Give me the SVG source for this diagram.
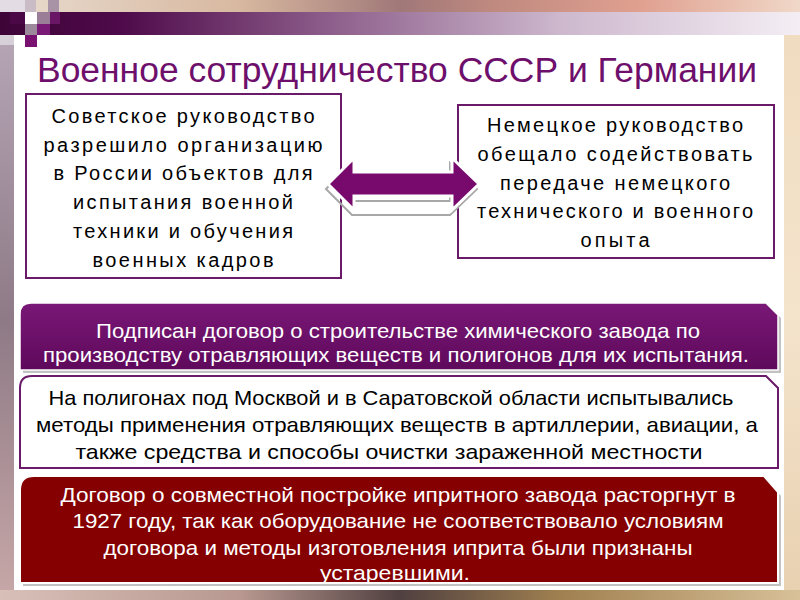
<svg xmlns="http://www.w3.org/2000/svg" width="800" height="600" viewBox="0 0 800 600">
<defs>
<linearGradient id="topPhoto" x1="0" y1="0" x2="1" y2="0">
<stop offset="0" stop-color="#e8dcd0"/>
<stop offset="0.3" stop-color="#d8b8a0"/>
<stop offset="0.5" stop-color="#a07878"/>
<stop offset="0.62" stop-color="#c08a80"/>
<stop offset="0.8" stop-color="#e0a090"/>
<stop offset="1" stop-color="#f0d8c8"/>
</linearGradient>
<linearGradient id="band" x1="0" y1="0" x2="1" y2="0">
<stop offset="0" stop-color="#3e0438"/>
<stop offset="0.15" stop-color="#4e0a4a"/>
<stop offset="0.4" stop-color="#8a5a88"/>
<stop offset="0.7" stop-color="#cdb8cd"/>
<stop offset="1" stop-color="#f4eef4"/>
</linearGradient>
<linearGradient id="leftStrip" x1="0" y1="0" x2="0" y2="1">
<stop offset="0" stop-color="#b4a4b4"/>
<stop offset="0.5" stop-color="#8e7a86"/>
<stop offset="1" stop-color="#c8a8a8"/>
</linearGradient>
<linearGradient id="rightStrip" x1="0" y1="0" x2="0" y2="1">
<stop offset="0" stop-color="#f0dcc0"/>
<stop offset="0.5" stop-color="#f4e4cc"/>
<stop offset="1" stop-color="#e8d0b0"/>
</linearGradient>
<linearGradient id="bottomStrip" x1="0" y1="0" x2="1" y2="0">
<stop offset="0" stop-color="#d8c0b8"/>
<stop offset="0.3" stop-color="#b89890"/>
<stop offset="0.5" stop-color="#504040"/>
<stop offset="0.7" stop-color="#a08050"/>
<stop offset="1" stop-color="#d8c098"/>
</linearGradient>
<linearGradient id="purpleBanner" x1="0" y1="0" x2="0" y2="1">
<stop offset="0" stop-color="#7a1877"/>
<stop offset="1" stop-color="#5e095b"/>
</linearGradient>
<style>
.title{font-family:"Liberation Sans",Arial,sans-serif;font-size:35px;fill:#6e0f6c}
.box{fill:#ffffff;stroke:#6a1a68;stroke-width:2}
.t{font-family:"Liberation Sans",Arial,sans-serif;font-size:20px;fill:#000000;text-anchor:middle}
.n{font-family:"Liberation Sans Narrow","Arial Narrow","Liberation Sans",sans-serif;font-size:21px;text-anchor:middle}
.w{fill:#ffffff}
.k{fill:#000000}
.shadow{fill:#9a9a9a;opacity:0.6}
</style>
</defs>
<!-- background -->
<rect x="0" y="0" width="800" height="600" fill="#ffffff"/>
<rect x="0" y="0" width="800" height="13" fill="url(#topPhoto)"/>
<rect x="0" y="12" width="800" height="23" fill="url(#band)"/>
<rect x="0" y="45" width="14" height="555" fill="url(#leftStrip)"/>
<rect x="0" y="35" width="14" height="10" fill="#d8d0d8"/>
<rect x="784" y="35" width="16" height="565" fill="url(#rightStrip)"/>
<rect x="0" y="590" width="800" height="10" fill="url(#bottomStrip)"/>
<!-- decorative squares -->
<rect x="0" y="0" width="25" height="12" fill="#e4dce4"/>
<rect x="25" y="0" width="11" height="12" fill="#cabcc6"/>
<rect x="48" y="0" width="11" height="12" fill="#a892a6"/>
<rect x="10" y="12" width="15" height="12" fill="#4a0846"/>
<rect x="25" y="12" width="12" height="12" fill="#ffffff"/>
<rect x="37" y="12" width="13" height="12" fill="#9a7e98"/>
<rect x="50" y="12" width="10" height="12" fill="#6a1666"/>
<rect x="25" y="24" width="12" height="11" fill="#9c8a9c"/>
<rect x="37" y="24" width="13" height="11" fill="#7a1a76"/>
<rect x="25" y="35" width="12" height="12" fill="#7a1070"/>

<text class="title" x="37" y="82" textLength="720" lengthAdjust="spacingAndGlyphs">Военное сотрудничество СССР и Германии</text>

<g id="node-soviet">
<rect class="box" x="26" y="94" width="315" height="184"/>
<text class="t" x="183" y="123" textLength="263" lengthAdjust="spacing">Советское руководство</text>
<text class="t" x="183" y="152" textLength="279" lengthAdjust="spacing">разрешило организацию</text>
<text class="t" x="183" y="180" textLength="259" lengthAdjust="spacing">в России объектов для</text>
<text class="t" x="183" y="209" textLength="220" lengthAdjust="spacing">испытания военной</text>
<text class="t" x="183" y="238" textLength="220" lengthAdjust="spacing">техники и обучения</text>
<text class="t" x="183" y="267" textLength="181" lengthAdjust="spacing">военных кадров</text>
</g>

<g id="node-german">
<rect class="box" x="458" y="105" width="316" height="153"/>
<text class="t" x="615" y="132" textLength="256" lengthAdjust="spacing">Немецкое руководство</text>
<text class="t" x="615" y="161" textLength="275" lengthAdjust="spacing">обещало содействовать</text>
<text class="t" x="615" y="190" textLength="230" lengthAdjust="spacing">передаче немецкого</text>
<text class="t" x="615" y="218" textLength="276" lengthAdjust="spacing">технического и военного</text>
<text class="t" x="615" y="247" textLength="69" lengthAdjust="spacing">опыта</text>
</g>

<g id="connectors">
<polygon points="326,189 352,163 352,201 450,201 450,163 477,189 450,215 352,215" fill="none" stroke="#a8a8a8" stroke-width="2"/>
<polygon points="328,184 354,158 354,172 452,172 452,158 479,184 452,210 452,196 354,196 354,210" fill="#780a6e" stroke="#ffffff" stroke-width="3" stroke-linejoin="miter"/>
</g>

<g id="node-treaty">
<path class="shadow" d="M23,373 V316 Q23,306 33,306 H769 L781,318 V373 Z"/>
<path d="M20,370 V314 Q20,303 31,303 H766 L778,315 V370 Z" fill="url(#purpleBanner)" stroke="#ffffff" stroke-width="1.5"/>
<text class="n w" x="398" y="338" textLength="604" lengthAdjust="spacingAndGlyphs">Подписан договор о строительстве химического завода по</text>
<text class="n w" x="396" y="362" textLength="706" lengthAdjust="spacingAndGlyphs">производству отравляющих веществ и полигонов для их испытания.</text>
</g>

<g id="node-polygons">
<path class="box" d="M20,468 V388 Q20,376 32,376 H766 L778,388 V468 Z"/>
<text class="n k" x="391" y="405" textLength="685" lengthAdjust="spacingAndGlyphs">На полигонах под Москвой и в Саратовской области испытывались</text>
<text class="n k" x="397" y="432" textLength="722" lengthAdjust="spacingAndGlyphs">методы применения отравляющих веществ в артиллерии, авиации, а</text>
<text class="n k" x="389" y="459" textLength="627" lengthAdjust="spacingAndGlyphs">также средства и способы очистки зараженной местности</text>
</g>

<g id="node-cancel">
<path class="shadow" d="M23,586 V494 Q23,480 37,480 H767 L781,496 V586 Z"/>
<path d="M20,583 V490 Q20,476 34,476 H764 L778,492 V583 Z" fill="#850000" stroke="#ffffff" stroke-width="2"/>
<text class="n w" x="398" y="502" textLength="675" lengthAdjust="spacingAndGlyphs">Договор о совместной постройке ипритного завода  расторгнут в</text>
<text class="n w" x="398" y="528" textLength="651" lengthAdjust="spacingAndGlyphs">1927 году, так как оборудование не соответствовало условиям</text>
<text class="n w" x="398" y="555" textLength="589" lengthAdjust="spacingAndGlyphs">договора и методы изготовления иприта были признаны</text>
<text class="n w" x="395" y="580" textLength="150" lengthAdjust="spacingAndGlyphs">устаревшими.</text>
</g>
</svg>
